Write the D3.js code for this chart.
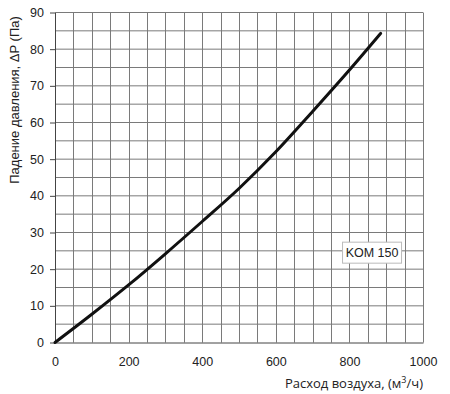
<!DOCTYPE html>
<html>
<head>
<meta charset="utf-8">
<script src="https://cdn.jsdelivr.net/npm/d3@7"></script>
<style>
  body { margin: 0; background: #fff; }
  svg { display: block; }
  .arial { font-family: "Liberation Sans", Arial, Helvetica, sans-serif; }
</style>
</head>
<body>
<div id="chart"></div>
<script>
// flow rate, m3/h
const flow = [0, 100, 200, 300, 400, 500, 600, 700, 800, 885];
// pressure drop, Pa
const drop = [0, 7.7, 15.7, 24.2, 33.0, 42.0, 52.0, 63.0, 74.3, 84.3];

const xTicks = [0, 200, 400, 600, 800, 1000];
const yTicks = [0, 10, 20, 30, 40, 50, 60, 70, 80, 90];
const seriesName = 'KOM 150';

const W = 450, H = 394;
const margin = {left: 55, right: 27, top: 12.5, bottom: 51.5};
const w = W - margin.left - margin.right;
const h = H - margin.top - margin.bottom;

const x = d3.scaleLinear().domain([0, 1000]).range([0, w]);
const y = d3.scaleLinear().domain([0, 90]).range([h, 0]);

const svg = d3.select('#chart').append('svg')
  .attr('width', W)
  .attr('height', H);

const plot = svg.append('g')
  .attr('transform', `translate(${margin.left}, ${margin.top})`);

// grid every 50 m3/h and every 5 Pa
plot.append('g').selectAll('line')
  .data(d3.range(50, 1001, 50))
  .join('line')
  .attr('x1', d => Math.round(x(d)) + 0.5)
  .attr('x2', d => Math.round(x(d)) + 0.5)
  .attr('y1', 0).attr('y2', h)
  .attr('stroke', '#7a7a7a')
  .attr('stroke-width', 1);

plot.append('g').selectAll('line')
  .data(d3.range(5, 91, 5))
  .join('line')
  .attr('x1', 0).attr('x2', w)
  .attr('y1', d => y(d)).attr('y2', d => y(d))
  .attr('stroke', '#7a7a7a')
  .attr('stroke-width', 1);

// y axis
const yAxis = plot.append('g')
  .call(d3.axisLeft(y).tickValues(yTicks).tickSize(5).tickPadding(6).tickSizeOuter(0));
yAxis.attr('font-family', null).attr('font-size', null).attr('class', 'arial');
yAxis.select('.domain').attr('stroke', '#444');
yAxis.selectAll('.tick line').attr('stroke', '#444');
yAxis.selectAll('text')
  .style('font-size', '12.5px')
  .attr('fill', '#222');

// x axis
const xAxis = plot.append('g')
  .attr('transform', `translate(0, ${h})`)
  .call(d3.axisBottom(x).tickValues(xTicks).tickFormat(d3.format('d'))
    .tickSize(0).tickPadding(15).tickSizeOuter(0));
xAxis.attr('font-family', null).attr('font-size', null).attr('class', 'arial');
xAxis.select('.domain').attr('stroke', '#444');
xAxis.selectAll('text')
  .style('font-size', '12.5px')
  .attr('fill', '#222');

// curve
const line = d3.line()
  .x((d, i) => x(flow[i]))
  .y(d => y(d))
  .curve(d3.curveMonotoneX);

plot.append('path')
  .datum(drop)
  .attr('d', line)
  .attr('fill', 'none')
  .attr('stroke', '#111')
  .attr('stroke-width', 3)
  .attr('stroke-linecap', 'round');

// legend box
const lg = plot.append('g')
  .attr('transform', `translate(${x(780)}, ${y(27.5)})`);
lg.append('rect')
  .attr('x', 0.5).attr('y', 0.5)
  .attr('width', 59).attr('height', 21)
  .attr('fill', '#fff')
  .attr('stroke', '#bbb');
lg.append('text')
  .attr('class', 'arial')
  .attr('x', 30).attr('y', 15.5)
  .attr('text-anchor', 'middle')
  .style('font-size', '12.5px')
  .attr('fill', '#222')
  .text(seriesName);

// axis titles
svg.append('text')
  .attr('class', 'arial')
  .attr('transform', 'translate(19, 100) rotate(-90)')
  .attr('text-anchor', 'middle')
  .style('font-size', '13px')
  .attr('fill', '#222')
  .text('Падение давления, ΔP (Па)');

const xt = svg.append('text')
  .attr('x', margin.left + w)
  .attr('y', 388)
  .attr('text-anchor', 'end')
  .style('font-family', '"Open Sans", sans-serif')
  .style('font-size', '13px')
  .attr('fill', '#222');
xt.append('tspan').text('Расход воздуха, (м');
xt.append('tspan').attr('dy', -5).style('font-size', '9px').text('3');
xt.append('tspan').attr('dy', 5).text('/ч)');
</script>
</body>
</html>
